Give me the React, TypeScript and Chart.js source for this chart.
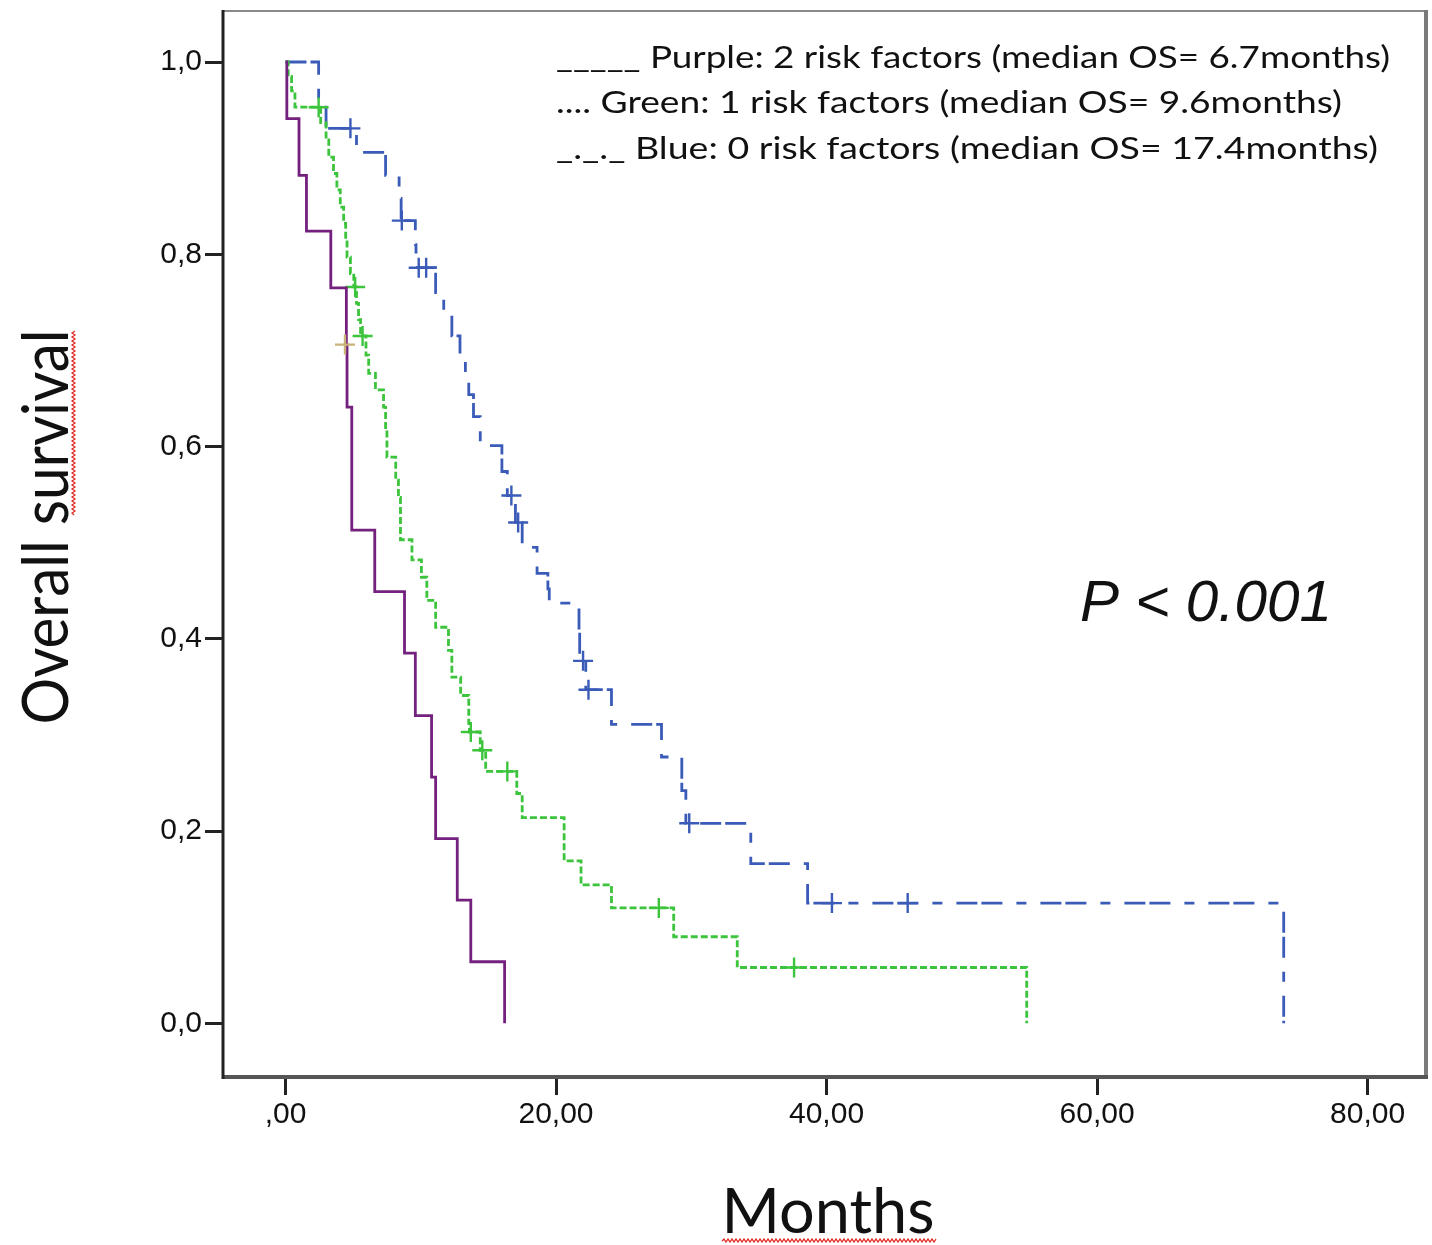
import React, { useEffect, useRef } from 'react';
import { Chart, registerables } from 'chart.js';

Chart.register(...registerables);

// ---- Data (months, survival after each step) ----
const purpleMonths = [0, 0.1, 1.0, 1.55, 3.35, 4.5, 4.55, 4.9, 6.6, 8.8, 9.6, 10.8, 11.1, 12.7, 13.7, 16.2];
const purpleSurvival = [1.0, 0.941, 0.882, 0.824, 0.765, 0.706, 0.641, 0.513, 0.449, 0.385, 0.32, 0.256, 0.192, 0.128, 0.064, 0];
const purpleCensorMonths = [4.4];
const purpleCensorSurvival = [0.706];

const greenMonths = [0, 0.2, 0.45, 0.7, 2.6, 3.0, 3.2, 3.55, 3.8, 4.05, 4.3, 4.45, 4.55, 4.8, 5.05, 5.25, 5.4, 5.55, 5.95, 6.15, 6.65, 7.25, 7.4, 7.5, 8.15, 8.35, 8.5, 9.35, 10.05, 10.45, 11.1, 12.05, 12.3, 12.95, 13.55, 13.6, 14.4, 14.8, 17.1, 17.5, 20.6, 21.85, 24.1, 28.7, 33.4, 54.8];
const greenSurvival = [1, 0.985, 0.97, 0.953, 0.937, 0.919, 0.901, 0.884, 0.867, 0.849, 0.832, 0.815, 0.797, 0.78, 0.766, 0.749, 0.732, 0.715, 0.695, 0.676, 0.659, 0.641, 0.617, 0.589, 0.565, 0.547, 0.503, 0.482, 0.464, 0.44, 0.412, 0.388, 0.36, 0.341, 0.312, 0.303, 0.284, 0.262, 0.239, 0.214, 0.169, 0.144, 0.12, 0.09, 0.058, 0];
const greenCensorMonths = [2.45, 5.15, 5.7, 13.7, 14.55, 16.4, 27.6, 37.6];
const greenCensorSurvival = [0.953, 0.766, 0.715, 0.303, 0.284, 0.262, 0.12, 0.058];

const blueMonths = [0, 2.45, 3.0, 5.25, 7.4, 8.4, 8.55, 9.6, 9.65, 11.1, 11.7, 12.3, 12.9, 13.3, 13.55, 13.9, 14.4, 16.0, 16.4, 17.0, 17.5, 18.6, 19.4, 19.5, 21.7, 21.75, 22.2, 24.1, 27.8, 29.3, 29.6, 34.4, 38.6, 73.8];
const blueSurvival = [1, 0.953, 0.931, 0.906, 0.882, 0.858, 0.835, 0.81, 0.786, 0.76, 0.737, 0.715, 0.695, 0.675, 0.654, 0.631, 0.601, 0.574, 0.549, 0.521, 0.495, 0.468, 0.452, 0.437, 0.407, 0.377, 0.347, 0.311, 0.277, 0.242, 0.208, 0.166, 0.125, 0];
const blueCensorMonths = [4.8, 8.6, 9.85, 10.4, 16.7, 17.2, 22.0, 22.4, 29.85, 40.4, 46.0];
const blueCensorSurvival = [0.931, 0.835, 0.786, 0.786, 0.549, 0.521, 0.377, 0.347, 0.208, 0.125, 0.125];

const xTickValues = [0, 20, 40, 60, 80];
const yTickValues = [0, 0.2, 0.4, 0.6, 0.8, 1.0];

const legendLines = [
  '_____ Purple: 2 risk factors (median OS= 6.7months)',
  '.... Green: 1 risk factors (median OS= 9.6months)',
  '_._._ Blue: 0 risk factors (median OS= 17.4months)',
];
const pValueText = 'P < 0.001';
const xTitle = 'Months';
const yTitle = 'Overall survival';

const PURPLE = '#74207f';
const GREEN = '#3cc43c';
const BLUE = '#3a5bb8';
const TAN = '#c9b27a';

const toPoints = (xs: number[], ys: number[]) => xs.map((x, i) => ({ x, y: ys[i] }));

function fitText(ctx: CanvasRenderingContext2D, text: string, x: number, y: number, font: string, width: number, align: 'left' | 'center') {
  ctx.save();
  ctx.font = font;
  const w = ctx.measureText(text).width;
  const sx = width / w;
  ctx.translate(x, y);
  ctx.scale(sx, 1);
  ctx.textAlign = 'left';
  ctx.fillText(text, align === 'center' ? -w / 2 : 0, 0);
  ctx.restore();
}

function wave(ctx: CanvasRenderingContext2D, x1: number, x2: number, y: number) {
  ctx.save();
  ctx.strokeStyle = '#e0302a';
  ctx.lineWidth = 1.3;
  ctx.beginPath();
  let up = true;
  ctx.moveTo(x1, y);
  for (let x = x1 + 2; x <= x2; x += 2) {
    ctx.lineTo(x, up ? y - 2 : y + 1);
    up = !up;
  }
  ctx.stroke();
  ctx.restore();
}

const decorPlugin = {
  id: 'decor',
  afterDraw(chart: any) {
    const ctx: CanvasRenderingContext2D = chart.ctx;
    const a = chart.chartArea;
    // frame
    ctx.save();
    ctx.lineCap = 'butt';
    ctx.strokeStyle = '#8a8a8a';
    ctx.lineWidth = 2;
    ctx.beginPath(); ctx.moveTo(a.left, a.top + 1); ctx.lineTo(a.right, a.top + 1); ctx.stroke();
    ctx.strokeStyle = '#7a7a7a';
    ctx.lineWidth = 4;
    ctx.beginPath(); ctx.moveTo(a.right, a.top); ctx.lineTo(a.right, a.bottom + 2); ctx.stroke();
    ctx.strokeStyle = '#555';
    ctx.lineWidth = 4;
    ctx.beginPath(); ctx.moveTo(a.left, a.bottom); ctx.lineTo(a.right + 2, a.bottom); ctx.stroke();
    ctx.strokeStyle = '#222';
    ctx.lineWidth = 3;
    ctx.beginPath(); ctx.moveTo(a.left, a.top); ctx.lineTo(a.left, a.bottom + 2); ctx.stroke();
    ctx.restore();

    ctx.save();
    ctx.fillStyle = '#111';
    ctx.textBaseline = 'middle';
    const legendY = [58, 103, 149];
    const legendW = [834, 786, 822];
    legendLines.forEach((t, i) => fitText(ctx, t, 556, legendY[i], '31px Lato', legendW[i], 'left'));
    fitText(ctx, pValueText, 1080, 605, 'italic 58px "Liberation Sans"', 252, 'left');

    ctx.textBaseline = 'alphabetic';
    fitText(ctx, xTitle, 828, 1233, '62px Lato', 213, 'center');
    wave(ctx, 722, 937, 1241);

    ctx.translate(68, 527);
    ctx.rotate(-Math.PI / 2);
    fitText(ctx, yTitle, 0, 0, '64px Lato', 395, 'center');
    wave(ctx, 12, 197, 6);
    ctx.restore();
  },
};

export default function App() {
  const ref = useRef<HTMLCanvasElement | null>(null);
  useEffect(() => {
    if (!ref.current) return;
    const lineDs = (label: string, xs: number[], ys: number[], color: string, width: number, dash: number[]) => ({
      type: 'line' as const,
      label,
      data: toPoints(xs, ys),
      borderColor: color,
      borderWidth: width,
      borderDash: dash,
      stepped: 'before' as const,
      pointRadius: 0,
      fill: false,
    });
    const censorDs = (label: string, xs: number[], ys: number[], color: string) => ({
      type: 'scatter' as const,
      label,
      data: toPoints(xs, ys),
      pointStyle: 'cross',
      pointRadius: 10,
      borderColor: color,
      pointBorderColor: color,
      pointBorderWidth: 2.4,
      borderWidth: 2.4,
      showLine: false,
    });
    const chart = new Chart(ref.current, {
      type: 'line',
      data: {
        datasets: [
          censorDs('Purple censored', purpleCensorMonths, purpleCensorSurvival, TAN),
          lineDs('Purple', purpleMonths, purpleSurvival, PURPLE, 2.8, []),
          censorDs('Green censored', greenCensorMonths, greenCensorSurvival, GREEN),
          lineDs('Green', greenMonths, greenSurvival, GREEN, 2.8, [7, 3]),
          censorDs('Blue censored', blueCensorMonths, blueCensorSurvival, BLUE),
          lineDs('Blue', blueMonths, blueSurvival, BLUE, 2.8, [21, 4, 21, 14, 10, 14]),
        ] as any,
      },
      options: {
        animation: false,
        responsive: false,
        devicePixelRatio: 1,
        layout: { autoPadding: false, padding: { left: 0, top: 10, right: 6, bottom: 0 } },
        plugins: { legend: { display: false }, tooltip: { enabled: false } },
        scales: {
          x: {
            type: 'linear',
            min: -4.62,
            max: 84.32,
            afterFit: (s: any) => { s.height = 168; s.paddingLeft = 0; s.paddingRight = 0; s.paddingTop = 0; s.paddingBottom = 0; },
            afterBuildTicks: (s: any) => { s.ticks = xTickValues.map((v) => ({ value: v })); },
            grid: { drawOnChartArea: false, drawTicks: true, tickLength: 18, tickWidth: 3, tickColor: '#222' },
            border: { display: false },
            ticks: {
              padding: 2,
              color: '#111',
              font: { family: '"Liberation Sans", Arial, sans-serif', size: 30 },
              callback: (v: any) => (v === 0 ? ',00' : Number(v).toFixed(2).replace('.', ',')),
            },
          },
          y: {
            type: 'linear',
            min: -0.0559,
            max: 1.0541,
            afterFit: (s: any) => { s.width = 223; s.paddingLeft = 0; s.paddingRight = 0; s.paddingTop = 0; s.paddingBottom = 0; },
            afterBuildTicks: (s: any) => { s.ticks = yTickValues.map((v) => ({ value: v })); },
            grid: { drawOnChartArea: false, drawTicks: true, tickLength: 18, tickWidth: 3, tickColor: '#222' },
            border: { display: false },
            ticks: {
              padding: 3,
              color: '#111',
              font: { family: '"Liberation Sans", Arial, sans-serif', size: 30 },
              callback: (v: any) => Number(v).toFixed(1).replace('.', ','),
            },
          },
        },
      } as any,
      plugins: [decorPlugin],
    });
    return () => chart.destroy();
  }, []);
  return (
    <div style={{ position: 'absolute', left: 0, top: 0, width: 1432, height: 1245, background: '#fff' }}>
      <canvas ref={ref} width={1432} height={1245} style={{ display: 'block', width: 1432, height: 1245 }} />
    </div>
  );
}
